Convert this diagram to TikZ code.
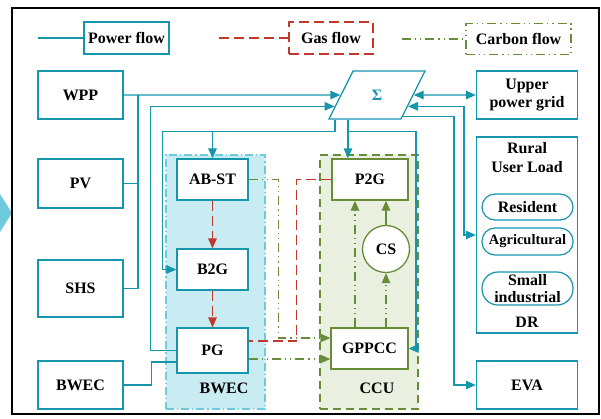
\documentclass[tikz,border=0pt]{standalone}
\definecolor{powerteal}{RGB}{22,150,172}
\definecolor{gasred}{RGB}{192,57,43}
\definecolor{carbongreen}{RGB}{104,140,56}
\definecolor{bwecfill}{RGB}{201,235,242}
\definecolor{ccufill}{RGB}{233,240,223}
\definecolor{bwecedge}{RGB}{112,202,222}
\usepackage{fontspec}
\setmainfont{Liberation Serif}
\usepackage{tikz}
\usetikzlibrary{arrows.meta,shapes.geometric,calc}

\begin{document}
\begin{tikzpicture}[x=1bp,y=-1bp,
  font=\bfseries\fontsize{16}{18.5}\selectfont,
  pbox/.style={draw=powerteal,line width=1.3bp,fill=white,inner sep=0pt,
    minimum width=85bp,minimum height=48bp,align=center},
  gbox/.style={draw=carbongreen,line width=1.3bp,fill=white,inner sep=0pt,
    minimum width=76bp,minimum height=41bp},
  pill/.style={draw=powerteal,line width=1.2bp,fill=white,rounded corners=13bp,
    minimum width=91bp,minimum height=26bp,inner sep=0pt,align=center},
  pline/.style={draw=powerteal,line width=1.3bp},
  gline/.style={draw=gasred,line width=1.3bp,dash pattern=on 10bp off 5bp},
  cline/.style={draw=carbongreen,line width=1.3bp,
    dash pattern=on 9bp off 4bp on 1.2bp off 4bp on 1.2bp off 4bp},
  arr/.style={-{Triangle[length=10bp,width=8.5bp]}},
  darr/.style={{Triangle[length=10bp,width=8.5bp]}-{Triangle[length=10bp,width=8.5bp]}}]
\useasboundingbox (0,0) rectangle (601,418);

% frame
\fill[bwecedge] (0,194) -- (12,213) -- (0,232) -- cycle;
\draw[line width=2.5bp] (12,8) rectangle (599,414);

% legend
\coordinate (powstart) at (38,38);
\coordinate (gasstart) at (219,38);
\coordinate (carbstart) at (402,39);
\node[pbox,minimum width=85bp,minimum height=32bp] (powerleg) at (126.5,38) {Power flow};
\node[draw=gasred,line width=1.3bp,dash pattern=on 10bp off 5bp,inner sep=0pt,
  minimum width=84bp,minimum height=32bp] (gasleg) at (331,38) {Gas flow};
\node[draw=carbongreen,line width=1.3bp,inner sep=0pt,
  dash pattern=on 9bp off 4bp on 1.2bp off 4bp on 1.2bp off 4bp,
  minimum width=105bp,minimum height=31bp] (carbleg) at (518.5,39) {Carbon flow};
\draw[pline] (powstart) -- (powerleg.west);
\draw[gline] (gasstart) -- (gasleg.west);
\draw[cline] (carbstart) -- (carbleg.west);

% areas
\node[draw=bwecedge,fill=bwecfill,line width=1.2bp,inner sep=0pt,
  dash pattern=on 8bp off 3bp on 1.2bp off 3bp,
  minimum width=99bp,minimum height=254bp] (bwecarea) at (215.5,282) {};
\node[draw=carbongreen,fill=ccufill,line width=1.2bp,inner sep=0pt,
  dash pattern=on 8bp off 5bp,
  minimum width=98bp,minimum height=254bp] (ccuarea) at (369,282) {};
\node (bweclbl) at (224,388) {BWEC};
\node (cculbl) at (377,388) {CCU};

% sources
\node[pbox] (wpp) at (80.5,95) {WPP};
\node[pbox,minimum height=49bp] (pv) at (80.5,183.5) {PV};
\node[pbox,minimum height=57bp] (shs) at (80.5,288.5) {SHS};
\node[pbox] (bwec) at (80.5,385) {BWEC};

\node[trapezium,trapezium left angle=63.4,trapezium right angle=116.6,
  draw=powerteal,line width=1.3bp,fill=white,text=powerteal,inner sep=0pt,
  minimum width=78bp,minimum height=48bp] (sigma) at (377,95) {Σ};

\node[pbox,minimum width=71bp,minimum height=41bp] (abst) at (212.5,179.5) {AB-ST};
\node[pbox,minimum width=71bp,minimum height=41bp] (b2g) at (212.5,269.5) {B2G};
\node[pbox,minimum width=71bp,minimum height=45bp] (pg) at (212.5,350.5) {PG};

\node[gbox] (p2g) at (370,179.5) {P2G};
\node[circle,draw=carbongreen,line width=1.3bp,fill=white,minimum size=47bp,
  inner sep=0pt] (cs) at (386,249) {CS};
\node[gbox,minimum width=77bp] (gppcc) at (369.5,348.5) {GPPCC};

\node[pbox,minimum width=101bp] (upper) at (527,95) {Upper\\power grid};
\node[pbox,minimum width=101bp,minimum height=196bp] (rural) at (527,235) {};
\node[align=center] (ruraltxt) at (527,157.5) {Rural\\User Load};
\node[pill] (resident) at (527.5,207) {Resident};
\node[pill,minimum height=27bp,font=\bfseries\fontsize{14.5}{17}\selectfont] (agri) at (527.5,241.5) {Agricultural};
\node[pill,minimum height=33bp,rounded corners=16bp,font=\bfseries\fontsize{16}{17}\selectfont] (smallind) at (527.5,288.5) {Small\\industrial};
\node (drtxt) at (527,322) {DR};
\node[pbox,minimum width=101bp] (eva) at (527,385) {EVA};

% power flow
\coordinate (bus) at (138,95);
\coordinate (sb1) at ($(sigma.bottom left corner)+(7,0)$);
\coordinate (sb2) at ($(sigma.bottom left corner)+(20,0)$);
\draw[pline,arr] (wpp.east) -- (sigma.west);
\draw[pline] (pv.east) -- (pv.east -| bus);
\draw[pline] (shs.east) -| (bus);
\draw[pline,arr] (pg.west) -- ++(-26,0) |- ($(sigma.west)!0.46!(sigma.bottom left corner)$);
\draw[pline] (bwec.east) -- ++(28,0) |- ($(pg.west)+(0,11.5)$);
\draw[pline,arr] (sb1) -- ++(0,12) -| ($(b2g.west)+(-14,0)$) -- (b2g.west);
\draw[pline,arr] ($(sb1)+(0,12)$) -| (abst.north);
\draw[pline,arr] (sb2) -- (sb2 |- p2g.north);
\draw[pline,arr] ($(sb2)+(0,12)$) -- ++(68,0) |- (gppcc.east);
\draw[pline,darr] (sigma.east) -- (upper.west);
\draw[pline,darr] ($(sigma.east)!0.46!(sigma.bottom right corner)$) -- ++(56,0) |- (rural.west);
\draw[pline,arr] ($(sigma.east)!0.875!(sigma.bottom right corner)$) -- ++(51,0) |- (eva.west);

% gas flow
\draw[gline,arr] (abst.south) -- (b2g.north);
\draw[gline,arr] (b2g.south) -- (pg.north);
\draw[gline] (p2g.west) -- ++(-35,0) |- ($(pg.east)+(0,-9.5)$);

% carbon flow
\draw[cline,arr] (abst.east) -- ++(30,0) |- ($(gppcc.west)+(0,-10.5)$);
\draw[cline,arr] ($(pg.east)+(0,8.5)$) -- ($(gppcc.west)+(0,10.5)$);
\draw[cline,arr] ([xshift=-14.5bp]gppcc.north) -- ([xshift=-14.5bp]gppcc.north |- p2g.south);
\draw[cline,arr] (gppcc.north -| cs) -- (cs.south);
\draw[draw=carbongreen,line width=1.3bp,arr] (cs.north) -- (cs.north |- p2g.south);
\end{tikzpicture}
\end{document}
